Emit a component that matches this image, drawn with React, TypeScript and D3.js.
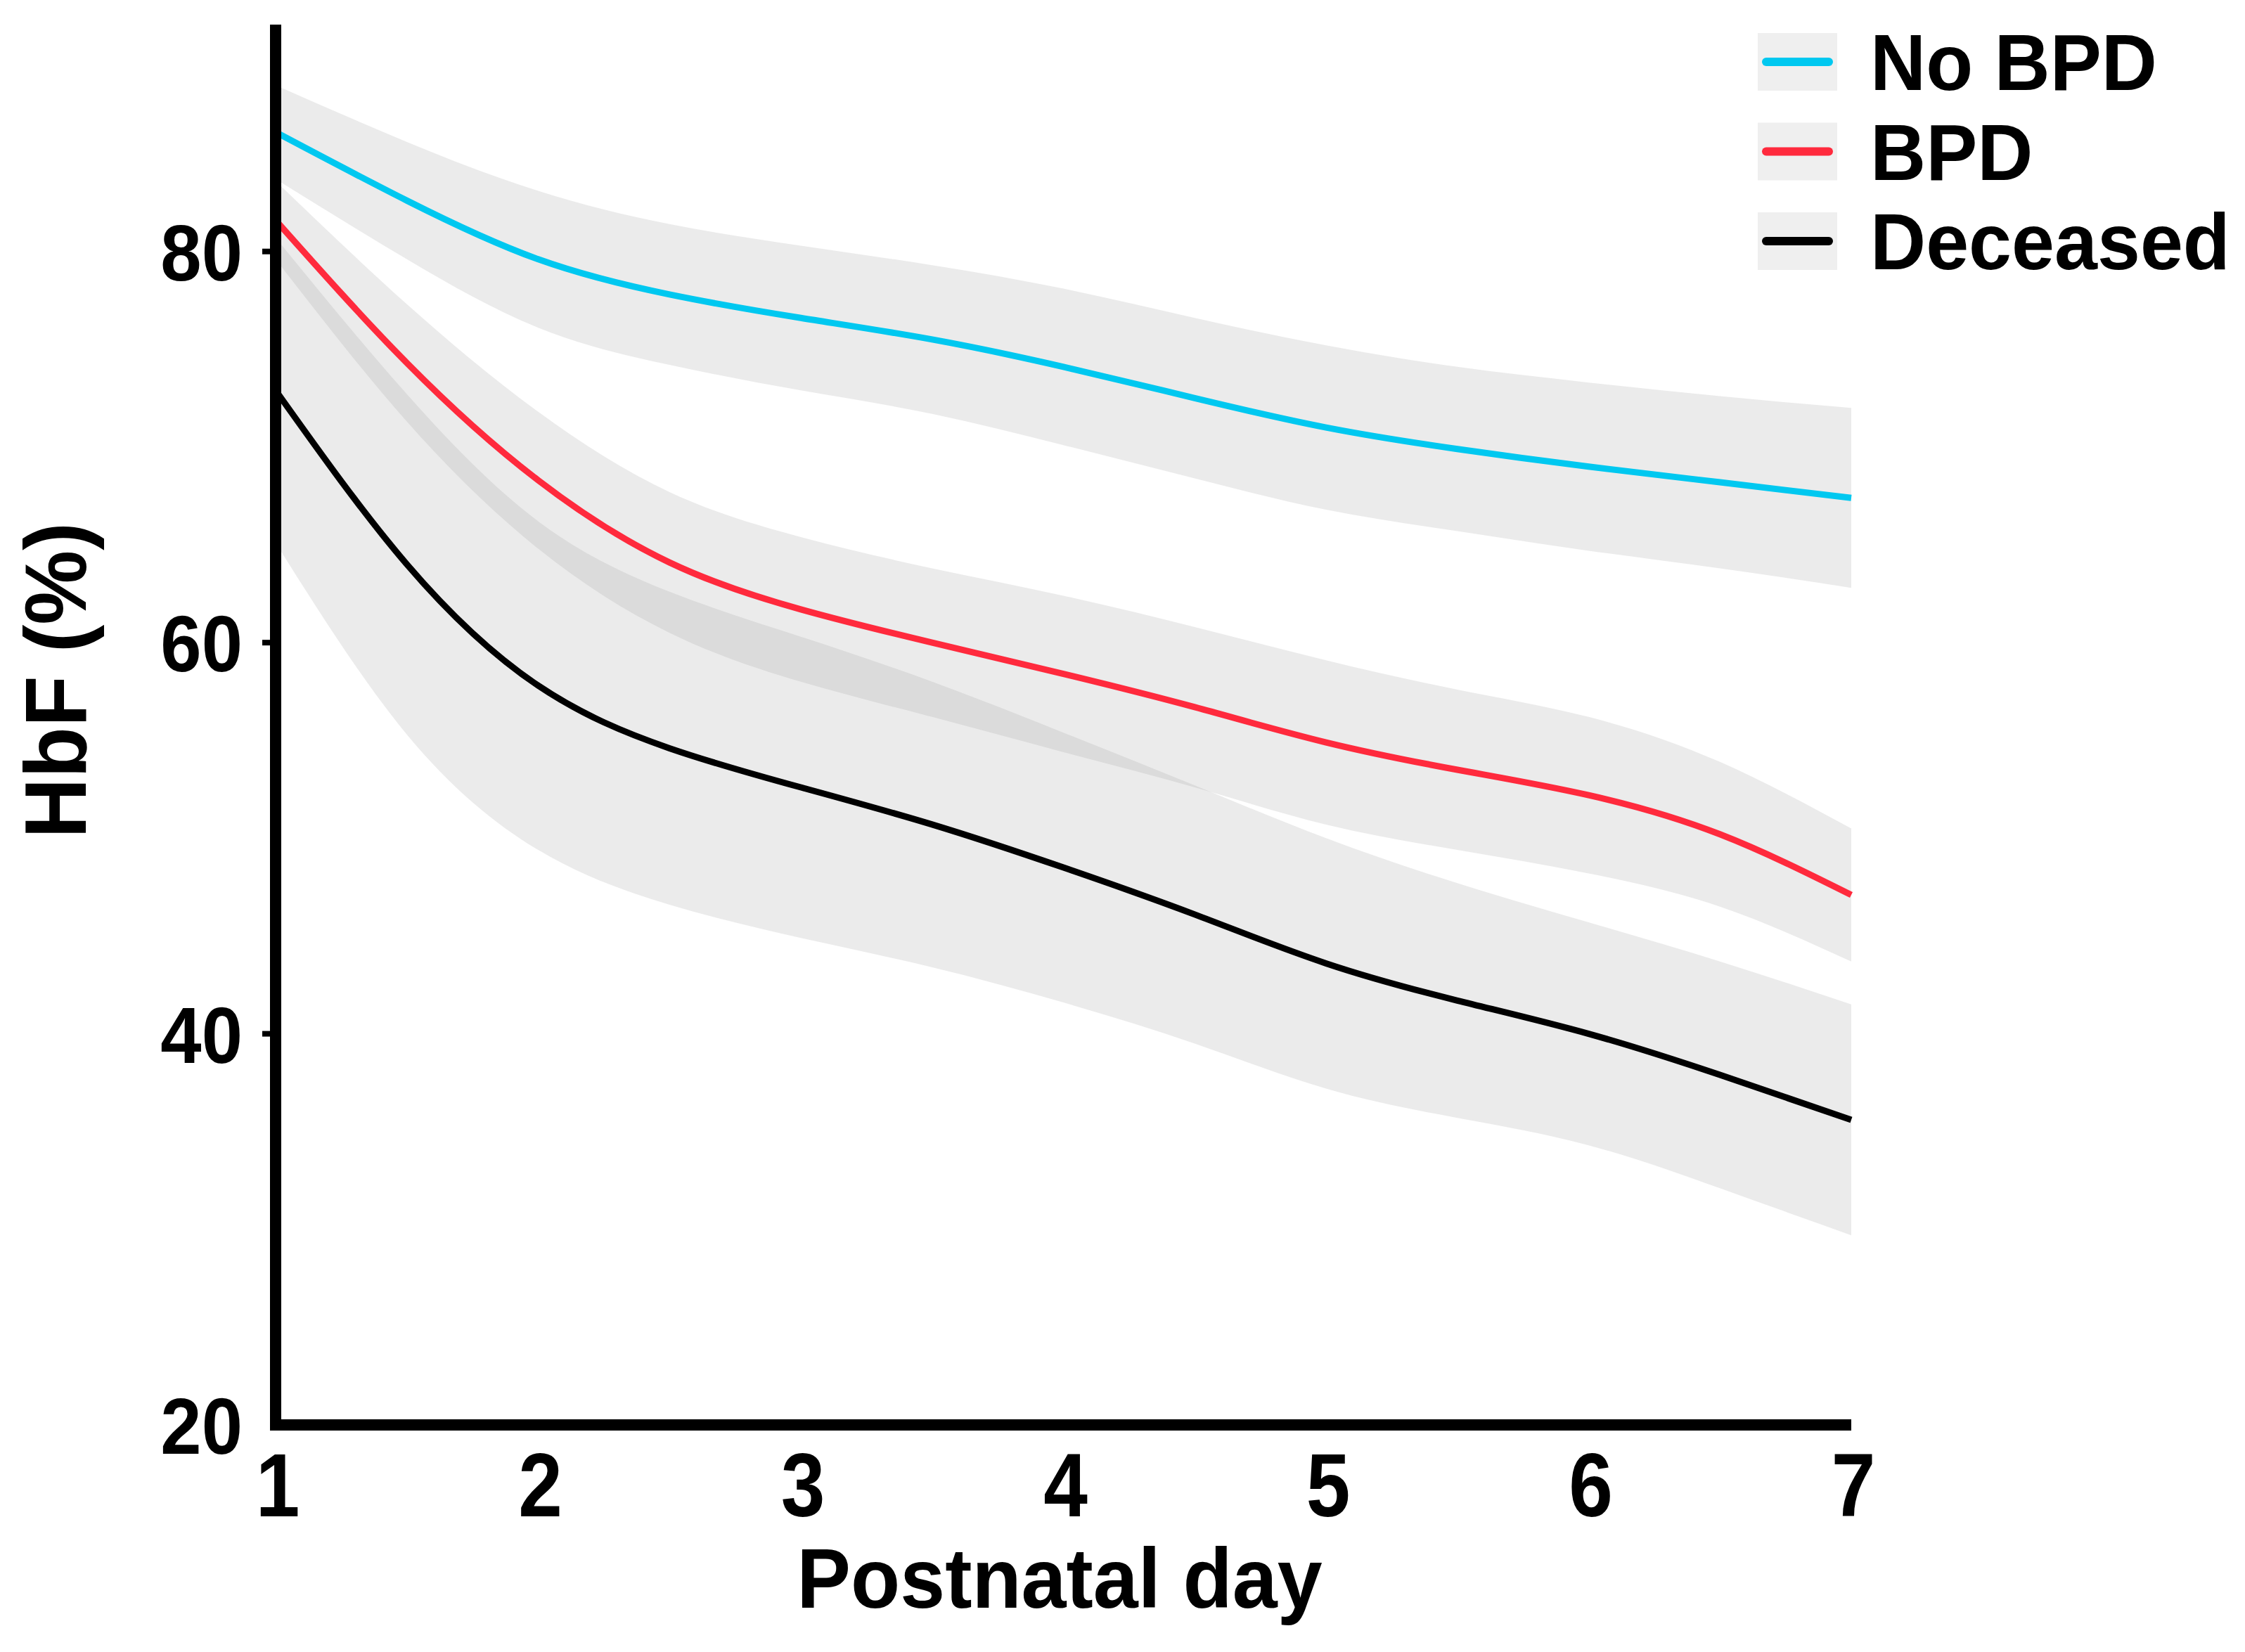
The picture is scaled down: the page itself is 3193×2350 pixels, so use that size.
import * as d3 from 'd3';

const days = [1, 1.5, 2, 2.5, 3, 3.5, 4, 4.5, 5, 5.5, 6, 6.5, 7];

// Fitted HbF (%) and half-width of the confidence band
const noBpdFit = [86.1, 82.6, 79.6, 77.8, 76.6, 75.5, 74.1, 72.5, 71.0, 69.9, 69.0, 68.2, 67.4];
const noBpdSe = [2.4, 3.0, 3.5, 3.6, 3.7, 3.8, 4.0, 4.1, 4.2, 4.2, 4.3, 4.4, 4.6];

const bpdFit = [81.6, 74.3, 68.3, 64.1, 61.7, 60.0, 58.4, 56.7, 54.9, 53.5, 52.2, 50.2, 47.1];
const bpdSe = [2.0, 3.0, 3.5, 3.6, 3.7, 3.8, 4.0, 4.1, 4.2, 4.1, 4.0, 3.7, 3.4];

const deceasedFit = [72.9, 64.0, 57.8, 54.6, 52.6, 50.7, 48.5, 46.1, 43.6, 41.7, 40.0, 37.9, 35.6];
const deceasedSe = [7.8, 8.7, 8.4, 8.0, 7.7, 7.3, 6.9, 6.6, 6.4, 6.0, 5.7, 5.8, 5.9];

const groupNames = ['No BPD', 'BPD', 'Deceased'];
const groupColors = ['#00c8f0', '#ff2a3d', '#000000'];

const xTicks = [1, 2, 3, 4, 5, 6, 7];
const yTicks = [20, 40, 60, 80];

const WIDTH = 3193;
const HEIGHT = 2350;
const FONT = '"Liberation Sans", Arial, sans-serif';

type Pt = { day: number; fit: number; se: number };

export default function App() {
  const x = d3.scaleLinear().domain([1, 7]).range([392, 2633]);
  const y = d3.scaleLinear().domain([20, 91.6]).range([2027, 35]);

  const series = [
    { fit: noBpdFit, se: noBpdSe },
    { fit: bpdFit, se: bpdSe },
    { fit: deceasedFit, se: deceasedSe },
  ].map((s) => days.map((day, i): Pt => ({ day, fit: s.fit[i], se: s.se[i] })));

  const band = d3
    .area<Pt>()
    .x((d) => x(d.day))
    .y0((d) => y(d.fit - d.se))
    .y1((d) => y(d.fit + d.se))
    .curve(d3.curveNatural);

  const line = d3
    .line<Pt>()
    .x((d) => x(d.day))
    .y((d) => y(d.fit))
    .curve(d3.curveNatural);

  const [x0, x1] = x.range();
  const [yBottom, yTop] = y.range();

  return (
    <>
      <style>{'body{margin:0}'}</style>
      <svg width={WIDTH} height={HEIGHT} style={{ display: 'block', background: '#fff' }} fontFamily={FONT} fontWeight="bold">
        {/* confidence bands */}
        <g>
          {series.map((s, i) => (
            <path key={i} d={band(s) || ''} fill="#999999" fillOpacity={0.2} />
          ))}
        </g>

        {/* fitted curves */}
        <g fill="none">
          {series.map((s, i) => (
            <path key={i} d={line(s) || ''} stroke={groupColors[i]} strokeWidth={9} />
          ))}
        </g>

        {/* axes */}
        <line x1={x0} x2={x0} y1={yTop} y2={yBottom + 8} stroke="#000" strokeWidth={16} />
        <line x1={x0 - 8} x2={x1} y1={yBottom} y2={yBottom} stroke="#000" strokeWidth={16} />

        {yTicks.map((t) => (
          <g key={t}>
            {t > 20 && <line x1={x0 - 19} x2={x0} y1={y(t)} y2={y(t)} stroke="#000" strokeWidth={8} />}
            <text
              transform={`translate(345,${y(t) + 41}) scale(0.92,1)`}
              textAnchor="end"
              fontSize={114}
            >
              {t}
            </text>
          </g>
        ))}

        {xTicks.map((t) => (
          <text
            key={t}
            transform={`translate(${x(t) + 3},2157) scale(0.88,1)`}
            textAnchor="middle"
            fontSize={128}
          >
            {t}
          </text>
        ))}

        <text transform={`translate(1507,2287) scale(0.95,1)`} textAnchor="middle" fontSize={121}>
          Postnatal day
        </text>
        <text transform={`translate(122,968) rotate(-90) scale(0.96,1)`} textAnchor="middle" fontSize={124}>
          HbF (%)
        </text>

        {/* legend */}
        {groupNames.map((name, i) => {
          const cy = 88 + i * 127.5;
          return (
            <g key={name}>
              <rect x={2500} y={cy - 41} width={113} height={82} fill="#efefef" />
              <line
                x1={2512}
                x2={2601}
                y1={cy}
                y2={cy}
                stroke={groupColors[i]}
                strokeWidth={12}
                strokeLinecap="round"
              />
              <text transform={`translate(2660,${cy + 40}) scale(0.97,1)`} fontSize={113}>
                {name}
              </text>
            </g>
          );
        })}
      </svg>
    </>
  );
}
